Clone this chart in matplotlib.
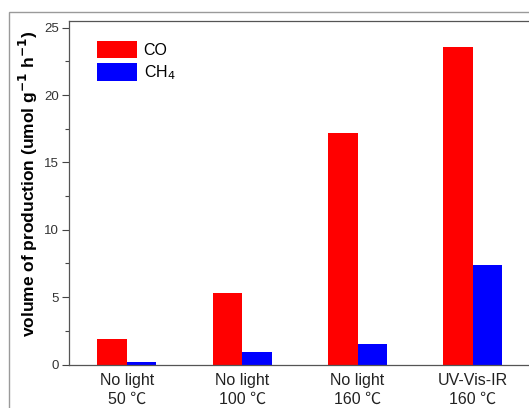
import matplotlib
matplotlib.use("Agg")
import matplotlib.pyplot as plt
from matplotlib.patches import Rectangle
from matplotlib.ticker import MultipleLocator
import numpy as np

plt.rcParams['font.family'] = ['Liberation Sans', 'Noto Sans CJK SC', 'DejaVu Sans']

categories = ["No light\n50 \u2103", "No light\n100 \u2103", "No light\n160 \u2103", "UV-Vis-IR\n160 \u2103"]
co_values = [1.9, 5.3, 17.2, 23.6]
ch4_values = [0.2, 0.9, 1.5, 7.4]
series_labels = ["CO", "CH$_4$"]

W, H = 529, 408
fig = plt.figure(figsize=(W / 100, H / 100), dpi=100)

# thin grey frame around the panel
fig.patches.append(Rectangle((9 / W, -0.1), 1.2, 1 - 12 / H + 0.1, transform=fig.transFigure,
                             fill=False, edgecolor="#9a9a9a", linewidth=1.0))

ax = fig.add_axes([69 / W, 43.5 / H, 461.6 / W, 343.5 / H])

x = np.arange(len(categories))
width = 0.256
ax.bar(x - width / 2, co_values, width, color="#ff0000", label=series_labels[0])
ax.bar(x + width / 2, ch4_values, width, color="#0000ff", label=series_labels[1])

ax.set_xlim(-0.5, 3.5)
ax.set_ylim(0, 25.5)
ax.yaxis.set_major_locator(MultipleLocator(5))
ax.yaxis.set_minor_locator(MultipleLocator(2.5))
ax.set_xticks(x)
ax.set_xticklabels(categories, fontsize=11.5, color="#222222", linespacing=1.35)
ax.tick_params(axis="x", length=0, pad=6)
ax.tick_params(axis="y", which="major", direction="out", length=5, width=0.8,
               colors="#444444", labelsize=9.5, labelcolor="#333333", pad=2)
ax.tick_params(axis="y", which="minor", direction="out", length=3, width=0.8, colors="#444444")

for side in ("left", "bottom", "top"):
    ax.spines[side].set_color("#555555")
    ax.spines[side].set_linewidth(0.9)
ax.spines["right"].set_visible(False)

ax.set_ylabel("volume of production (umol g$^{\\mathbf{-1}}$ h$^{\\mathbf{-1}}$)",
              fontsize=12.5, fontweight="bold")
ax.yaxis.set_label_coords(-0.062, 0.525)

leg = ax.legend(loc="upper left", bbox_to_anchor=(0.03, 0.985), frameon=False,
                fontsize=11.5, handlelength=2.5, handleheight=1.35, handletextpad=0.4,
                labelspacing=0.3)

fig.savefig("out.png", dpi=100)
